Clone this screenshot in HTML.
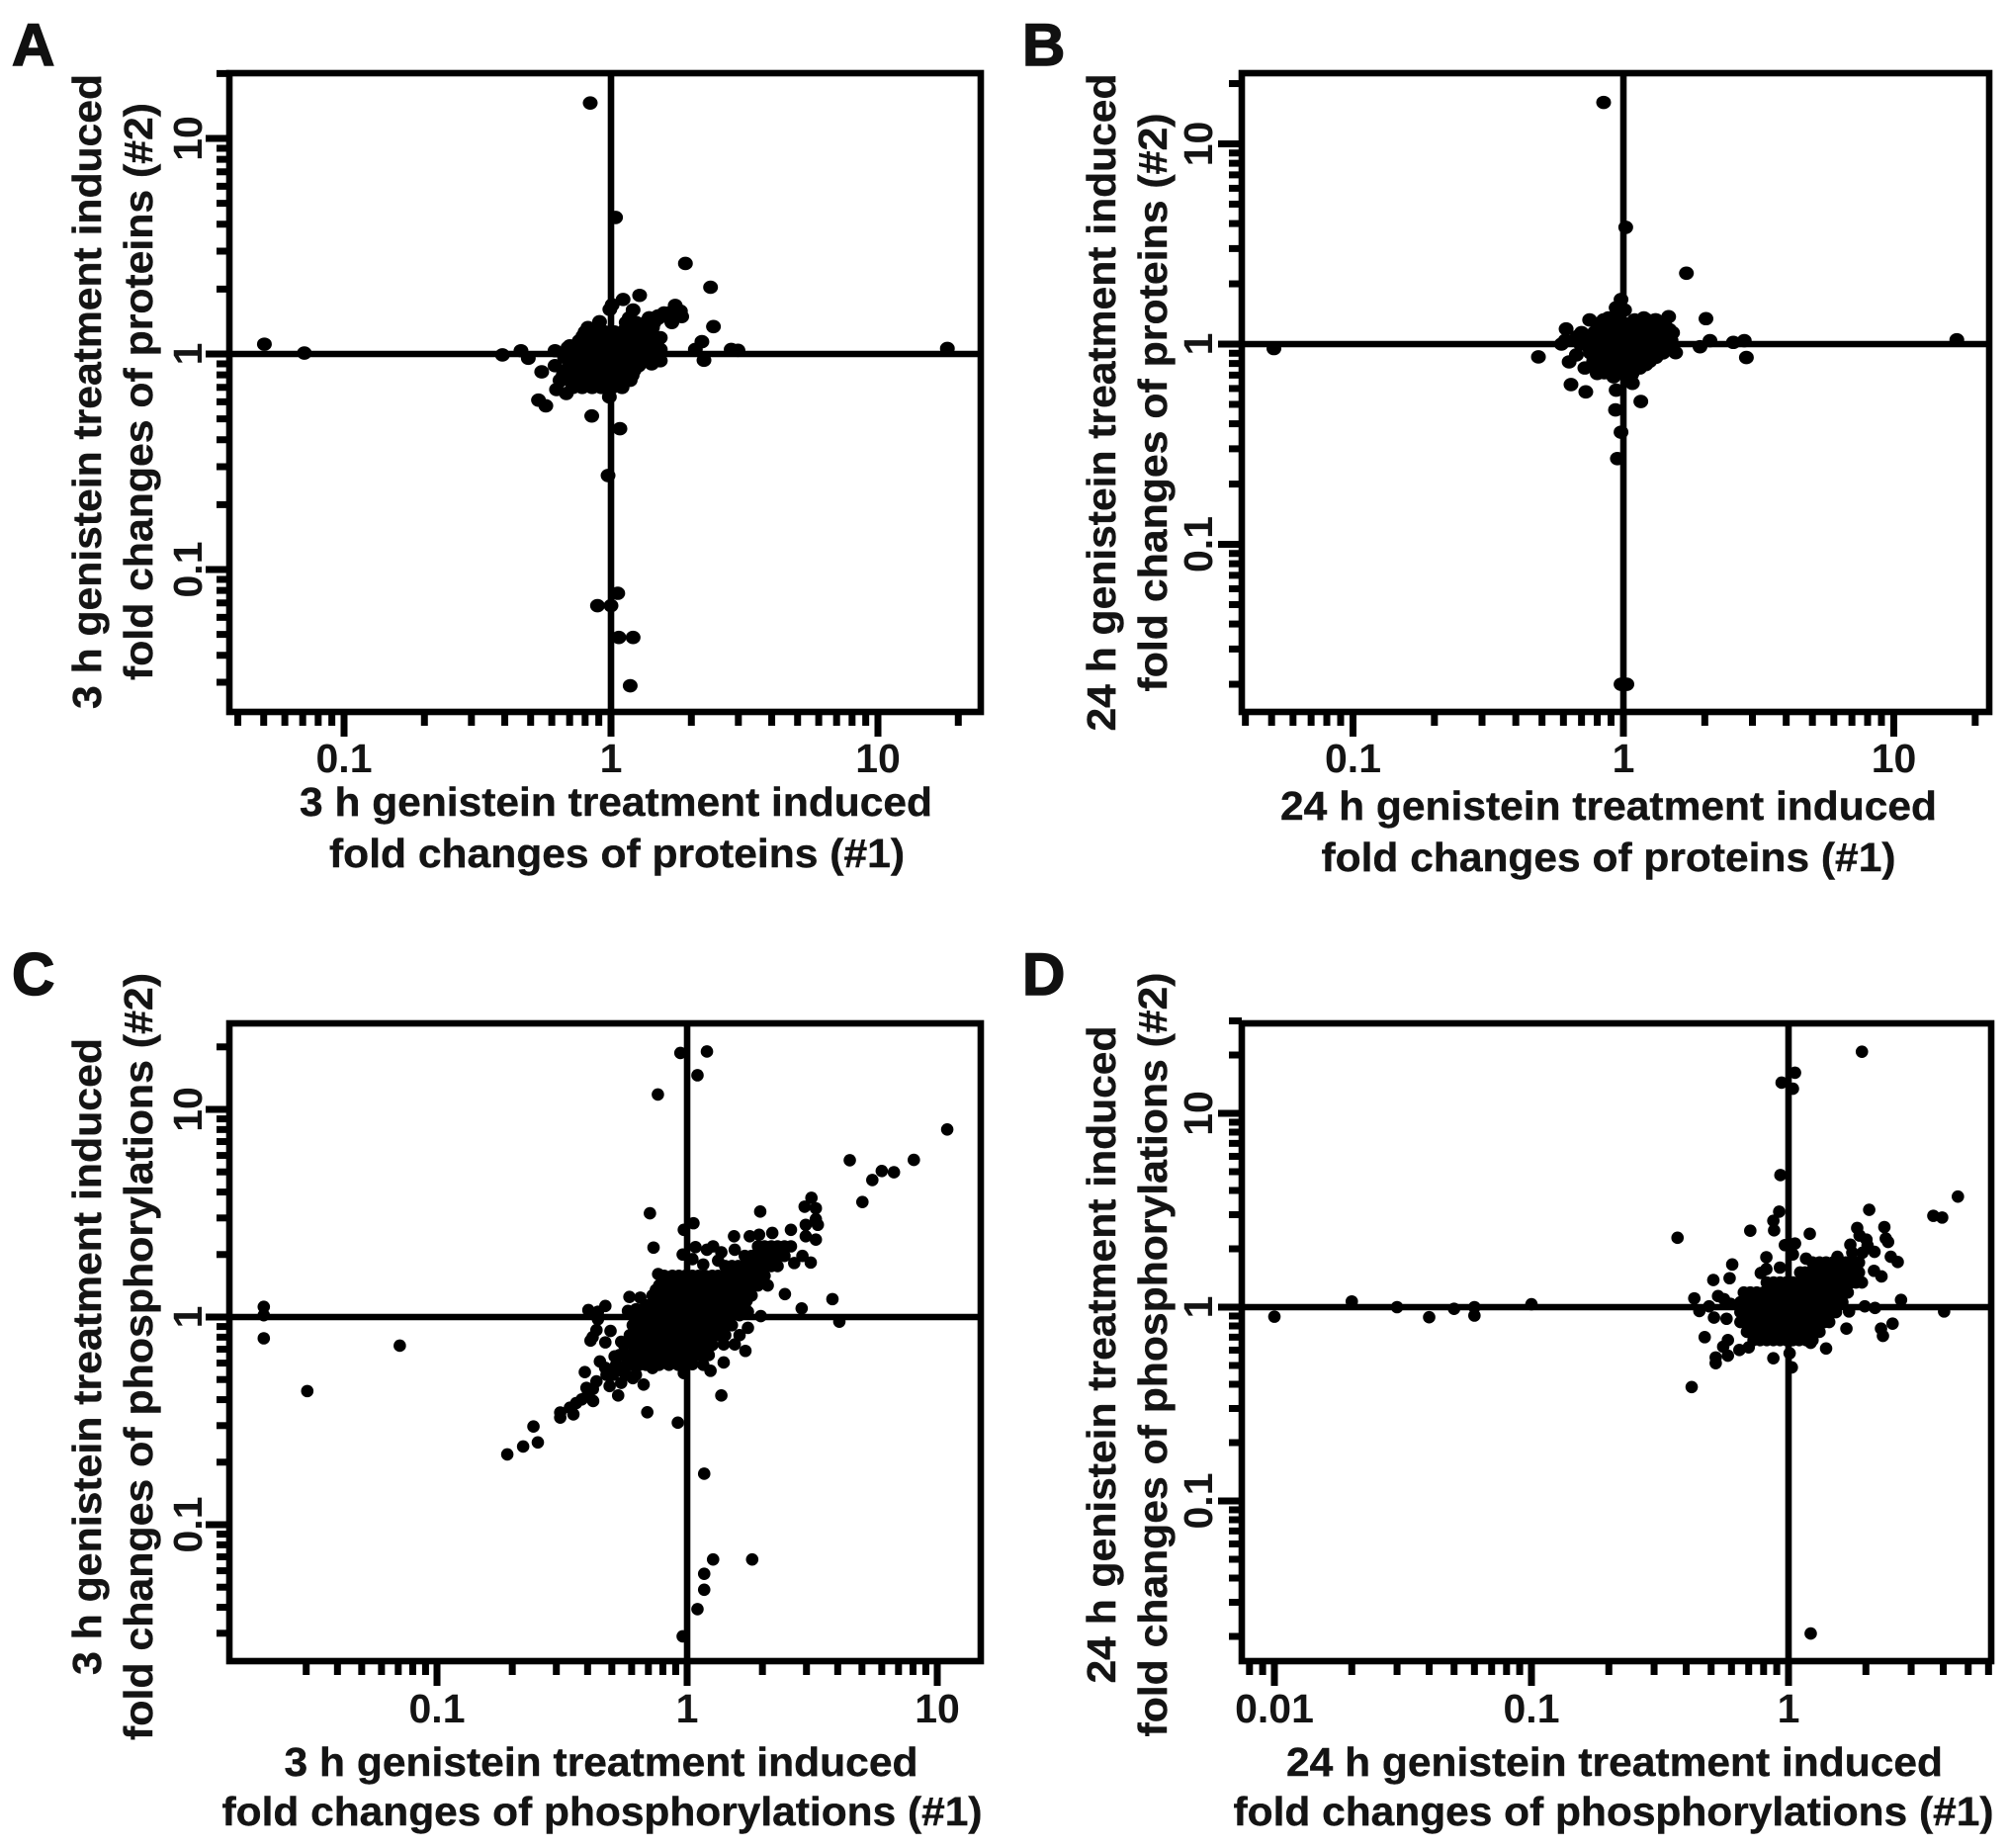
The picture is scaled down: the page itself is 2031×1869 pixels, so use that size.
<!DOCTYPE html>
<html lang="en">
<head>
<meta charset="utf-8">
<title>Genistein fold-change scatter plots</title>
<style>
html,body{margin:0;padding:0;background:#fff;}
svg{display:block;}
text{font-family:"Liberation Sans",Arial,sans-serif;font-weight:700;fill:#141414;}
.title{font-size:41px;stroke:#141414;stroke-width:.4px;}
.tick-label{font-size:41px;text-anchor:middle;}
.panel-letter{font-size:60px;fill:#111;stroke:#111;stroke-width:1.5px;}
</style>
</head>
<body>
<svg id="chart" xmlns="http://www.w3.org/2000/svg" width="2031" height="1869" viewBox="0 0 2031 1869">
  <rect x="0" y="0" width="2031" height="1869" fill="#fff"/>

  <g id="panel-a">
    <text class="panel-letter" x="12" y="66">A</text>
    <text class="title" text-anchor="middle" textLength="642" lengthAdjust="spacingAndGlyphs" transform="translate(102,396) rotate(-90)">3 h genistein treatment induced</text>
    <text class="title" text-anchor="middle" textLength="584" lengthAdjust="spacingAndGlyphs" transform="translate(154,396) rotate(-90)">fold changes of proteins (#2)</text>
    <text class="title" text-anchor="middle" textLength="640" lengthAdjust="spacingAndGlyphs" x="623" y="825">3 h genistein treatment induced</text>
    <text class="title" text-anchor="middle" textLength="582" lengthAdjust="spacingAndGlyphs" x="624" y="877">fold changes of proteins (#1)</text>
  </g>

  <g id="panel-b">
    <text class="panel-letter" x="1034" y="66">B</text>
    <text class="title" text-anchor="middle" textLength="665" lengthAdjust="spacingAndGlyphs" transform="translate(1128,407) rotate(-90)">24 h genistein treatment induced</text>
    <text class="title" text-anchor="middle" textLength="585" lengthAdjust="spacingAndGlyphs" transform="translate(1180,407) rotate(-90)">fold changes of proteins (#2)</text>
    <text class="title" text-anchor="middle" textLength="664" lengthAdjust="spacingAndGlyphs" x="1627" y="829">24 h genistein treatment induced</text>
    <text class="title" text-anchor="middle" textLength="581" lengthAdjust="spacingAndGlyphs" x="1627" y="881">fold changes of proteins (#1)</text>
  </g>

  <g id="panel-c">
    <text class="panel-letter" x="12" y="1006">C</text>
    <text class="title" text-anchor="middle" textLength="644" lengthAdjust="spacingAndGlyphs" transform="translate(102,1372) rotate(-90)">3 h genistein treatment induced</text>
    <text class="title" text-anchor="middle" textLength="776" lengthAdjust="spacingAndGlyphs" transform="translate(154,1372) rotate(-90)">fold changes of phosphorylations (#2)</text>
    <text class="title" text-anchor="middle" textLength="641" lengthAdjust="spacingAndGlyphs" x="608" y="1796">3 h genistein treatment induced</text>
    <text class="title" text-anchor="middle" textLength="769" lengthAdjust="spacingAndGlyphs" x="609" y="1846">fold changes of phosphorylations (#1)</text>
  </g>

  <g id="panel-d">
    <text class="panel-letter" x="1034" y="1006">D</text>
    <text class="title" text-anchor="middle" textLength="665" lengthAdjust="spacingAndGlyphs" transform="translate(1128,1370) rotate(-90)">24 h genistein treatment induced</text>
    <text class="title" text-anchor="middle" textLength="773" lengthAdjust="spacingAndGlyphs" transform="translate(1180,1370) rotate(-90)">fold changes of phosphorylations (#2)</text>
    <text class="title" text-anchor="middle" textLength="664" lengthAdjust="spacingAndGlyphs" x="1633" y="1796">24 h genistein treatment induced</text>
    <text class="title" text-anchor="middle" textLength="769" lengthAdjust="spacingAndGlyphs" x="1632" y="1846">fold changes of phosphorylations (#1)</text>
  </g>
</svg>

<script>
// ---------- Tick values and labels ----------
const panelAXMajor = [0.1, 1, 10];
const panelAXLabels = ['0.1', '1', '10'];
const panelAXMinor = [.04,.05,.06,.07,.08,.09,.2,.3,.4,.5,.6,.7,.8,.9,2,3,4,5,6,7,8,9,20];
const panelAYMajor = [0.1, 1, 10];
const panelAYLabels = ['0.1', '1', '10'];
const panelAYMinor = [.03,.04,.05,.06,.07,.08,.09,.2,.3,.4,.5,.6,.7,.8,.9,2,3,4,5,6,7,8,9,20];

const panelBXMajor = [0.1, 1, 10];
const panelBXLabels = ['0.1', '1', '10'];
const panelBXMinor = [.04,.05,.06,.07,.08,.09,.2,.3,.4,.5,.6,.7,.8,.9,2,3,4,5,6,7,8,9,20];
const panelBYMajor = [0.1, 1, 10];
const panelBYLabels = ['0.1', '1', '10'];
const panelBYMinor = [.02,.03,.04,.05,.06,.07,.08,.09,.2,.3,.4,.5,.6,.7,.8,.9,2,3,4,5,6,7,8,9,20];

const panelCXMajor = [0.1, 1, 10];
const panelCXLabels = ['0.1', '1', '10'];
const panelCXMinor = [.03,.04,.05,.06,.07,.08,.09,.2,.3,.4,.5,.6,.7,.8,.9,2,3,4,5,6,7,8,9];
const panelCYMajor = [0.1, 1, 10];
const panelCYLabels = ['0.1', '1', '10'];
const panelCYMinor = [.03,.04,.05,.06,.07,.08,.09,.2,.3,.4,.5,.6,.7,.8,.9,2,3,4,5,6,7,8,9,20];

const panelDXMajor = [0.01, 0.1, 1];
const panelDXLabels = ['0.01', '0.1', '1'];
const panelDXMinor = [.008,.009,.02,.03,.04,.05,.06,.07,.08,.09,.2,.3,.4,.5,.6,.7,.8,.9,2,3,4,5,6];
const panelDYMajor = [0.1, 1, 10];
const panelDYLabels = ['0.1', '1', '10'];
const panelDYMinor = [.02,.03,.04,.05,.06,.07,.08,.09,.2,.3,.4,.5,.6,.7,.8,.9,2,3,4,5,6,7,8,9,20,30];

// ---------- Panel A: 3 h proteins (replicate #1, replicate #2 fold changes) ----------
const panelAX = [
 .836,1.04,1.90,2.36,.0503,.071,18.2,.975,1.08,.847,.89,1.0,1.06,1.07,1.21,1.18,
 2.42,2.19,2.07,2.23,2.82,2.99,1.28,1.11,1.21,.99,1.01,.906,1.74,1.82,1.84,1.58,1.69,1.39,
 .392,.46,.49,.617,.69,.67,.617,.55,.535,.57,.986,1.01,.625,.68,.644,1.53,1.53,1.42,1.53,
 1.17,1.39,1.51,
 .82,1.14,1.27,1.43,
 .785,.855,.931,1.01,1.10,1.20,1.31,1.43,
 .701,.764,.832,.906,.986,1.07,1.14,1.27,1.39,
 .721,.785,.855,.931,1.01,1.10,1.20,1.31,1.43,
 .701,.764,.832,.906,.986,1.07,1.14,1.27,
 .662,.721,.785,.855,.931,1.01,1.10,1.20,
 .721,.82,.855,1.07,
 .76,.80,.87,.95,1.03,1.12,1.22,1.33,1.45,
 .70,.75,.80,.87,.95,1.03,1.12,1.22,1.33,1.45,
 .72,.75,.80,.87,.95,1.03,1.12,1.22,1.30,
 .68,.74,.80,.87,.95,1.03,1.12,1.22,
 .65,.74,.80,.87,.95,1.03,1.12,1.18,
 .80,.87,.95,1.03,1.12,1.22,1.33,1.40,
 1.14,1.24,1.35,1.45,
 .72,.78,.85,.92,.98,1.1,
 1.50,1.65
];
const panelAY = [
 14.6,4.3,2.63,2.04,1.11,1.01,1.06,.273,.45,.516,.068,.068,.0776,.0484,.0484,.0289,
 1.34,1.14,1.05,.935,1.05,1.04,1.87,1.79,1.60,1.61,1.69,1.41,1.68,1.58,1.49,1.55,1.40,1.47,
 .99,1.035,.955,1.035,1.07,.966,.883,.826,.611,.575,.632,.70,.684,.656,.755,.93,1.05,.90,1.19,
 1.47,1.47,1.47,
 1.325,1.325,1.325,1.325,
 1.21,1.21,1.21,1.21,1.21,1.21,1.21,1.21,
 1.09,1.09,1.09,1.09,1.09,1.09,1.09,1.09,1.09,
 .98,.98,.98,.98,.98,.98,.98,.98,.98,
 .883,.883,.883,.883,.883,.883,.883,.883,
 .796,.796,.796,.796,.796,.796,.796,.796,
 .716,.716,.716,.716,
 1.15,1.15,1.15,1.15,1.15,1.15,1.15,1.15,1.15,
 1.03,1.03,1.03,1.03,1.03,1.03,1.03,1.03,1.03,1.03,
 .93,.93,.93,.93,.93,.93,.93,.93,.93,
 .84,.84,.84,.84,.84,.84,.84,.84,
 .755,.755,.755,.755,.755,.755,.755,.755,
 1.265,1.265,1.265,1.265,1.265,1.265,1.265,1.265,
 1.40,1.40,1.40,1.40,
 .70,.70,.70,.70,.70,.70,
 1.50,1.55
];

// ---------- Panel B: 24 h proteins ----------
const panelBX = [
 .845,1.02,1.71,2.02,.051,17.1,.98,1.03,.95,.98,.94,1.01,.75,.614,.59,.485,.67,.63,.72,.80,
 .64,.726,.92,1.07,1.08,.94,1.16,.935,.98,1.47,1.19,1.31,1.48,1.56,1.92,2.09,2.55,2.80,2.85,.88,
 .845,.945,1.10,1.22,1.32,
 .822,.92,1.03,1.15,1.29,1.44,
 .675,.755,.822,.894,.972,1.06,1.15,1.25,1.36,1.48,
 .694,.755,.822,.894,.972,1.06,1.15,1.25,1.36,1.48,
 .755,.822,.894,.972,1.06,1.15,1.25,1.40,
 .776,.845,.92,1.0,1.06,1.15,1.25,
 .845,.945,1.06,1.15,
 .80,.87,.95,1.03,1.12,1.21,1.32,1.42,
 .70,.78,.87,.95,1.03,1.12,1.21,1.32,1.42,1.52,
 .61,.66,.72,.78,.87,.95,1.03,1.12,1.21,1.32,1.42,1.50,
 .75,.80,.87,.95,1.03,1.12,1.21,1.32,1.42,
 .78,.87,.95,1.03,1.12,1.21,1.32,
 .80,.87,.95,1.03,1.12,1.21,
 .85,.92,1.0,1.08
];
const panelBY = [
 16.1,3.83,2.26,1.34,.95,1.05,.02,.02,.268,1.67,1.52,1.48,1.32,1.19,1.0,.863,.883,.815,.76,.713,
 .628,.577,.687,.70,.637,.589,.517,.469,.363,1.37,1.35,1.32,1.18,.906,.97,1.04,1.02,1.04,.857,1.35,
 1.32,1.32,1.32,1.32,1.32,
 1.2,1.2,1.2,1.2,1.2,1.2,
 1.09,1.09,1.09,1.09,1.09,1.09,1.09,1.09,1.09,1.09,
 1.0,1.0,1.0,1.0,1.0,1.0,1.0,1.0,1.0,1.0,
 .903,.903,.903,.903,.903,.903,.903,.903,
 .82,.82,.82,.82,.82,.82,.82,
 .76,.76,.76,.76,
 1.26,1.26,1.26,1.26,1.26,1.26,1.26,1.26,
 1.14,1.14,1.14,1.14,1.14,1.14,1.14,1.14,1.14,1.14,
 1.045,1.045,1.045,1.045,1.045,1.045,1.045,1.045,1.045,1.045,1.045,1.045,
 .95,.95,.95,.95,.95,.95,.95,.95,.95,
 .86,.86,.86,.86,.86,.86,.86,
 .79,.79,.79,.79,.79,.79,
 .72,.72,.72,.72
];

// ---------- Panel C: 3 h phosphorylations ----------
const panelCX = [
 .94,1.2,1.10,.764,10.96,4.47,8.06,6.71,6.0,5.5,5.02,
 .71,1.96,.734,.0203,.0203,.0203,.0303,.071,
 .191,.221,.253,.243,.918,.693,1.37,.53,.39,.67,1.71,
 1.17,1.27,1.82,1.17,1.17,1.10,.96,
 4.06,3.81,2.87,2.46,1.97,
 3.14,2.95,3.27,3.27,2.98,3.33,3.27,2.98,3.12,2.68,2.89,
 2.60,2.19,1.94,1.78,1.54,1.55,1.37,1.27,1.20,1.08,
 .97,1.06,.96,1.05,1.16,1.33,.766,.81,.75,.588,.65,
 .471,.403,.44,.44,.434,.419,.411,.494,.471,.58,.625,.545,
 .311,.311,.351,.34,.379,.421,.396,.434,.49,.448,.476,
 .513,.545,.607,.727,.82,.97,1.05,1.16,1.24,1.40,1.40,
 1.55,1.62,1.75,1.75,1.73,2.10,
 2.04,2.30,2.60,
 1.70,1.92,2.17,2.45,
 1.42,1.60,1.81,2.04,2.30,
 .873,.985,1.11,1.26,1.42,1.60,1.81,2.04,
 .82,.927,1.05,1.18,1.33,1.51,1.70,1.92,
 .773,.873,.985,1.11,1.26,1.42,1.60,1.81,
 .727,.82,.927,1.05,1.18,1.33,1.51,1.70,
 .644,.727,.82,.927,1.05,1.18,1.33,1.51,1.62,
 .606,.684,.773,.873,.985,1.11,1.26,1.42,
 .59,.644,.727,.82,.927,1.05,1.18,1.33,
 .56,.606,.684,.773,.873,.985,1.11,1.26,
 .537,.606,.684,.773,.873,.985,1.11,1.22,
 .52,.57,.644,.727,.846,.985,
 .505,.57,.624,
 2.17,2.45,1.92,
 1.81,2.04,2.30,
 1.51,1.70,1.92,2.17,
 .927,1.05,1.18,1.33,1.51,1.70,1.92,
 .773,.873,.985,1.11,1.26,1.42,1.60,1.81,
 .727,.82,.927,1.05,1.18,1.33,1.51,1.70,
 .684,.773,.873,.985,1.11,1.26,1.42,1.60,
 .606,.684,.773,.873,.985,1.11,1.26,1.42,
 .644,.727,.82,.927,1.05,1.18,1.33,1.51,
 .606,.684,.773,.873,.985,1.11,1.26,1.42,
 .644,.727,.82,.927,1.05,1.18,
 .57,.644,.727,.82,.927,1.05,1.18,
 .606,.684,.773,.92,
 .42,.40,.36,.47,.50,.55
];
const panelCY = [
 18.7,19,14.6,11.8,8.0,5.69,5.71,4.98,5.05,4.57,3.58,
 3.16,3.22,2.16,1.12,1.02,.79,.44,.728,
 .218,.238,.249,.297,.31,.348,.419,.419,.543,.473,.687,
 .176,.068,.068,.058,.0486,.0392,.029,
 .95,1.22,1.10,1.29,1.01,
 3.75,3.40,3.34,2.96,2.78,2.78,2.36,2.45,1.83,1.82,1.97,
 2.63,2.54,2.49,2.45,2.45,2.11,2.05,2.19,2.11,2.17,
 2.63,2.83,2.0,1.90,1.79,1.87,1.61,1.58,1.35,1.25,1.24,
 1.13,1.08,1.06,.975,.865,.80,.77,.857,.755,1.07,1.09,.76,
 .347,.328,.34,.366,.401,.394,.456,.49,.465,.611,.527,
 .646,.482,.508,.568,.60,.537,.593,.589,.551,.604,.738,
 .738,.818,.887,1.06,1.20,1.42,
 2.19,2.19,2.19,
 1.97,1.97,1.97,1.97,
 1.76,1.76,1.76,1.76,1.76,
 1.58,1.58,1.58,1.58,1.58,1.58,1.58,1.58,
 1.42,1.42,1.42,1.42,1.42,1.42,1.42,1.42,
 1.27,1.27,1.27,1.27,1.27,1.27,1.27,1.27,
 1.14,1.14,1.14,1.14,1.14,1.14,1.14,1.14,
 1.02,1.02,1.02,1.02,1.02,1.02,1.02,1.02,1.02,
 .913,.913,.913,.913,.913,.913,.913,.913,
 .818,.818,.818,.818,.818,.818,.818,.818,
 .733,.733,.733,.733,.733,.733,.733,.733,
 .656,.656,.656,.656,.656,.656,.656,.656,
 .589,.589,.589,.589,.589,.589,
 .527,.527,.527,
 2.19,2.19,2.19,
 1.97,1.97,1.97,
 1.76,1.76,1.76,1.76,
 1.58,1.58,1.58,1.58,1.58,1.58,1.58,
 1.42,1.42,1.42,1.42,1.42,1.42,1.42,1.42,
 1.27,1.27,1.27,1.27,1.27,1.27,1.27,1.27,
 1.14,1.14,1.14,1.14,1.14,1.14,1.14,1.14,
 1.02,1.02,1.02,1.02,1.02,1.02,1.02,1.02,
 .913,.913,.913,.913,.913,.913,.913,.913,
 .818,.818,.818,.818,.818,.818,.818,.818,
 .733,.733,.733,.733,.733,.733,
 .656,.656,.656,.656,.656,.656,.656,
 .589,.589,.589,.589,
 .45,.42,.385,.57,.56,.55
];

// ---------- Panel D: 24 h phosphorylations ----------
const panelDX = [
 1.93,1.06,.94,1.04,.93,4.56,3.66,3.96,.37,.92,.873,.879,.71,1.21,
 2.06,1.85,2.36,2.39,2.44,1.89,2.01,2.03,1.74,2.16,2.50,2.66,
 2.15,2.30,1.93,2.74,2.17,1.98,1.72,4.03,2.54,2.29,2.33,1.68,
 1.40,1.22,1.03,.873,1.01,.42,.521,.521,.581,.472,.557,.581,.644,.70,
 .513,.491,.45,.43,.532,.561,.51,.59,.604,.574,.595,
 .82,.78,.82,.926,.968,1.06,1.04,1.17,1.55,
 .01,.02,.03,.04,.05,.06,.06,.1,1.22,
 1.77,1.94,
 1.32,1.49,1.67,1.88,
 1.11,1.21,1.36,1.53,1.72,1.88,
 .823,.927,1.04,1.17,1.32,1.49,1.67,1.83,
 .67,.753,.848,.953,1.07,1.21,1.36,1.53,1.70,
 .65,.731,.823,.927,1.04,1.17,1.32,1.49,1.62,
 .65,.731,.823,.927,1.04,1.17,1.32,1.49,
 .65,.731,.823,.927,1.04,1.17,1.32,1.44,
 .689,.776,.873,.982,1.11,1.24,1.32,
 .731,.823,.927,1.04,1.17,
 1.24,1.40,1.58,1.78,
 1.16,1.28,1.45,1.63,1.80,
 .875,.98,1.10,1.24,1.40,1.58,1.75,
 .71,.80,.90,1.01,1.14,1.28,1.45,1.62,
 .69,.775,.873,.98,1.10,1.24,1.40,1.55,
 .69,.775,.873,.98,1.10,1.24,1.40,1.53,
 .69,.775,.873,.98,1.10,1.24,1.38,
 .73,.823,.927,1.04,1.17,1.28,
 .776,.873,.982,1.10,1.24
];
const panelDY = [
 20.8,16.2,14.4,13.4,4.8,3.72,2.96,2.90,2.28,3.11,2.79,2.49,2.48,2.39,
 3.18,2.56,2.59,2.26,2.17,2.34,2.23,2.08,2.10,1.93,1.82,1.71,
 1.54,1.44,1.34,1.09,.99,1.01,.95,.95,.822,.775,.711,.775,
 .612,.655,.489,.545,.578,.387,.55,.514,.562,.70,.625,.676,.601,.62,
 .883,1.01,.955,1.11,1.14,1.10,1.38,1.41,1.66,.871,1.04,
 1.81,1.50,1.57,1.60,2.09,2.13,1.87,1.78,1.82,
 .893,1.07,1.0,.887,.98,1.0,.905,1.035,.0207,
 1.91,1.91,
 1.70,1.70,1.70,1.70,
 1.51,1.51,1.51,1.51,1.51,1.51,
 1.34,1.34,1.34,1.34,1.34,1.34,1.34,1.34,
 1.19,1.19,1.19,1.19,1.19,1.19,1.19,1.19,1.19,
 1.06,1.06,1.06,1.06,1.06,1.06,1.06,1.06,1.06,
 .942,.942,.942,.942,.942,.942,.942,.942,
 .838,.838,.838,.838,.838,.838,.838,.838,
 .746,.746,.746,.746,.746,.746,.746,
 .676,.676,.676,.676,.676,
 1.70,1.70,1.70,1.70,
 1.51,1.51,1.51,1.51,1.51,
 1.34,1.34,1.34,1.34,1.34,1.34,1.34,
 1.19,1.19,1.19,1.19,1.19,1.19,1.19,1.19,
 1.06,1.06,1.06,1.06,1.06,1.06,1.06,1.06,
 .942,.942,.942,.942,.942,.942,.942,.942,
 .838,.838,.838,.838,.838,.838,.838,
 .746,.746,.746,.746,.746,.746,
 .676,.676,.676,.676,.676
];

// ---------- Drawing ----------
const SVG_NS = 'http://www.w3.org/2000/svg';
const LINE_WIDTH = 6.6;
const TICK_WIDTH = 7;
const MAJOR_TICK = 24;
const MINOR_TICK = 13;

function makeLogScale(pixelAtOne, pixelsPerDecade) {
  return function (value) {
    return pixelAtOne + pixelsPerDecade * Math.log10(value);
  };
}

function addLine(parent, x1, y1, x2, y2, width, name) {
  const el = document.createElementNS(SVG_NS, 'line');
  el.setAttribute('x1', x1);
  el.setAttribute('y1', y1);
  el.setAttribute('x2', x2);
  el.setAttribute('y2', y2);
  el.setAttribute('stroke', '#000');
  el.setAttribute('stroke-width', width);
  
  
  parent.appendChild(el);
}

function addLabel(parent, text, x, y, rotate, name) {
  const el = document.createElementNS(SVG_NS, 'text');
  el.setAttribute('class', 'tick-label');
  if (rotate) {
    el.setAttribute('transform', 'translate(' + x + ',' + y + ') rotate(-90)');
  } else {
    el.setAttribute('x', x);
    el.setAttribute('y', y);
  }
  
  
  el.textContent = text;
  parent.appendChild(el);
}

function drawPanel(p) {
  const root = document.getElementById(p.id);
  const sx = makeLogScale(p.xOne, p.xDecade);
  const sy = makeLogScale(p.yOne, -p.yDecade);

  // plot frame
  const frame = document.createElementNS(SVG_NS, 'rect');
  frame.setAttribute('x', p.left);
  frame.setAttribute('y', p.top);
  frame.setAttribute('width', p.right - p.left);
  frame.setAttribute('height', p.bottom - p.top);
  frame.setAttribute('fill', 'none');
  frame.setAttribute('stroke', '#000');
  frame.setAttribute('stroke-width', LINE_WIDTH);
  
  
  root.appendChild(frame);

  // reference lines at fold change = 1
  addLine(root, p.left, sy(1), p.right, sy(1), LINE_WIDTH, 'horizontal-reference-line');
  addLine(root, sx(1), p.top, sx(1), p.bottom, LINE_WIDTH, 'vertical-reference-line');

  // x ticks
  p.xMinor.forEach(function (v) {
    addLine(root, sx(v), p.bottom, sx(v), p.bottom + MINOR_TICK + 1, TICK_WIDTH, 'x-minor-tick');
  });
  p.xMajor.forEach(function (v, i) {
    addLine(root, sx(v), p.bottom, sx(v), p.bottom + MAJOR_TICK + 1, TICK_WIDTH, 'x-major-tick');
    addLabel(root, p.xLabels[i], sx(v), p.xLabelY, false, 'x-tick-label');
  });

  // y ticks
  p.yMinor.forEach(function (v) {
    addLine(root, p.left, sy(v), p.left - MINOR_TICK, sy(v), TICK_WIDTH, 'y-minor-tick');
  });
  p.yMajor.forEach(function (v, i) {
    addLine(root, p.left, sy(v), p.left - MAJOR_TICK, sy(v), TICK_WIDTH, 'y-major-tick');
    addLabel(root, p.yLabels[i], p.yLabelX, sy(v), true, 'y-tick-label');
  });

  // points
  const count = Math.min(p.xs.length, p.ys.length);
  for (let i = 0; i < count; i++) {
    const dot = document.createElementNS(SVG_NS, 'ellipse');
    dot.setAttribute('cx', sx(p.xs[i]));
    dot.setAttribute('cy', sy(p.ys[i]));
    dot.setAttribute('rx', p.rx);
    dot.setAttribute('ry', p.ry);
    dot.setAttribute('fill', '#000');
    
    
    root.appendChild(dot);
  }
}

drawPanel({id:'panel-a', left:232, right:992, top:74, bottom:720,
  xOne:618, xDecade:270, yOne:358, yDecade:218, rx:7.5, ry:6.8,
  xLabelY:781, yLabelX:204,
  xMajor:panelAXMajor, xLabels:panelAXLabels, xMinor:panelAXMinor,
  yMajor:panelAYMajor, yLabels:panelAYLabels, yMinor:panelAYMinor,
  xs:panelAX, ys:panelAY});

drawPanel({id:'panel-b', left:1256, right:2012, top:74, bottom:720,
  xOne:1642, xDecade:273.5, yOne:348, yDecade:202.5, rx:7.5, ry:6.8,
  xLabelY:781, yLabelX:1226,
  xMajor:panelBXMajor, xLabels:panelBXLabels, xMinor:panelBXMinor,
  yMajor:panelBYMajor, yLabels:panelBYLabels, yMinor:panelBYMinor,
  xs:panelBX, ys:panelBY});

drawPanel({id:'panel-c', left:232, right:992, top:1035, bottom:1680,
  xOne:695, xDecade:253, yOne:1332, yDecade:210, rx:6.3, ry:6.3,
  xLabelY:1742, yLabelX:204,
  xMajor:panelCXMajor, xLabels:panelCXLabels, xMinor:panelCXMinor,
  yMajor:panelCYMajor, yLabels:panelCYLabels, yMinor:panelCYMinor,
  xs:panelCX, ys:panelCY});

drawPanel({id:'panel-d', left:1256, right:2014, top:1035, bottom:1680,
  xOne:1809, xDecade:260, yOne:1322, yDecade:196, rx:6.3, ry:6.3,
  xLabelY:1742, yLabelX:1226,
  xMajor:panelDXMajor, xLabels:panelDXLabels, xMinor:panelDXMinor,
  yMajor:panelDYMajor, yLabels:panelDYLabels, yMinor:panelDYMinor,
  xs:panelDX, ys:panelDY});
</script>
</body>
</html>
